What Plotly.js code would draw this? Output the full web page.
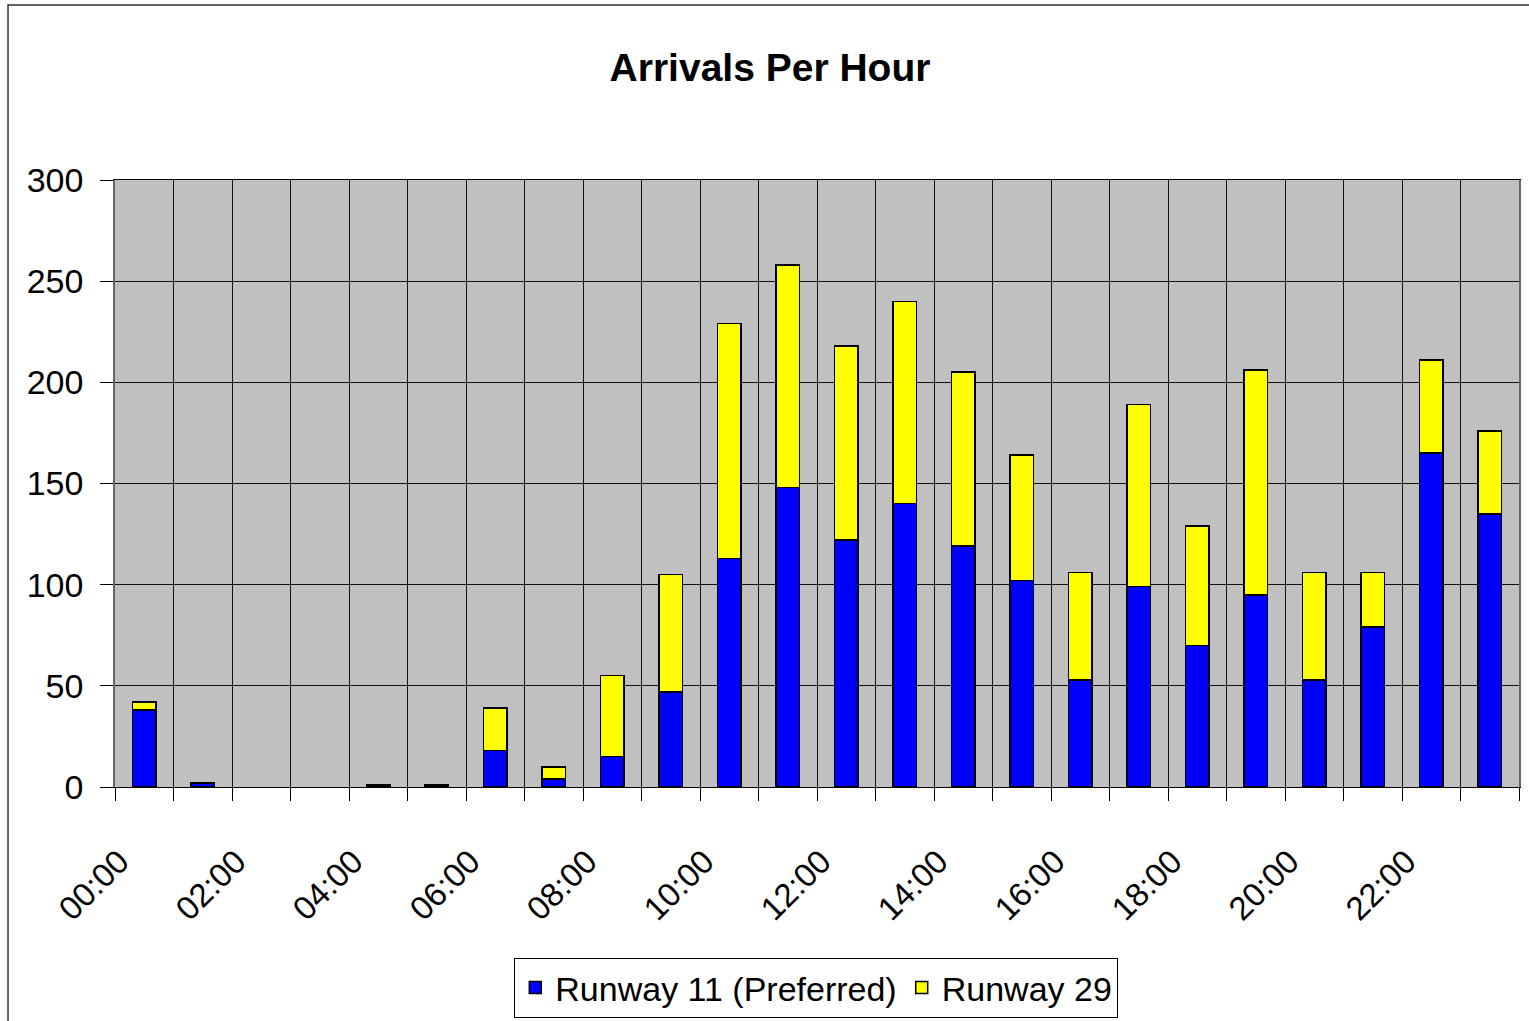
<!DOCTYPE html>
<html>
<head>
<meta charset="utf-8">
<script src="https://cdn.plot.ly/plotly-3.0.1.min.js"></script>
<style>
  body { margin: 0; background: #fff; }
  #chart { width: 1529px; height: 1021px; }
</style>
</head>
<body>
<div id="chart"></div>
<script>
// hour slots 0..23, labelled every second hour
let hours = [0, 1, 2, 3, 4, 5, 6, 7, 8, 9, 10, 11, 12, 13, 14, 15, 16, 17, 18, 19, 20, 21, 22, 23];
let labelHours = [0, 2, 4, 6, 8, 10, 12, 14, 16, 18, 20, 22];
let labelText = ["00:00", "02:00", "04:00", "06:00", "08:00", "10:00", "12:00", "14:00", "16:00", "18:00", "20:00", "22:00"];

// arrivals (null = no bar drawn)
let runway11 = [38, 2, null, null, 1, 1, 18, 4, 15, 47, 113, 148, 122, 140, 119, 102, 53, 99, 70, 95, 53, 79, 165, 135];
let runway29 = [4, null, null, null, null, null, 21, 6, 40, 58, 116, 110, 96, 100, 86, 62, 53, 90, 59, 111, 53, 27, 46, 41];

let font = "Liberation Sans, Arial, sans-serif";

let data = [
  {
    x: hours,
    y: runway11,
    type: "bar",
    name: "Runway 11 (Preferred)",
    marker: {color: "#0000FF", line: {color: "#000", width: 1.5}}
  },
  {
    x: hours,
    y: runway29,
    type: "bar",
    name: "Runway 29",
    marker: {color: "#FFFF00", line: {color: "#000", width: 1.5}}
  }
];

let layout = {
  width: 1529,
  height: 1021,
  margin: {l: 115, r: 10, t: 180, b: 234, autoexpand: false},
  paper_bgcolor: "#fff",
  plot_bgcolor: "#C0C0C0",
  barmode: "stack",
  bargap: 0.59,
  font: {family: font, color: "#000"},
  title: {
    text: "Arrivals Per Hour",
    font: {family: font, size: 39, weight: "bold", color: "#000"},
    xref: "container",
    x: 0.5036,
    xanchor: "center",
    yref: "container",
    y: 0.934,
    yanchor: "middle"
  },
  xaxis: {
    range: [-0.5, 23.5],
    automargin: false,
    tickmode: "array",
    tickvals: labelHours,
    ticktext: labelText,
    tickangle: -45,
    ticks: "",
    showgrid: false,
    zeroline: false,
    showline: true,
    linecolor: "#000",
    linewidth: 1,
    mirror: true,
    tickfont: {family: font, size: 33, color: "#000"},
    ticklabelstandoff: 41,
    ticklabelshift: -25,
    minor: {
      tick0: -0.5,
      dtick: 1,
      ticks: "outside",
      ticklen: 13,
      tickcolor: "#000",
      tickwidth: 1,
      showgrid: true,
      gridcolor: "#111",
      gridwidth: 1
    }
  },
  yaxis: {
    range: [0, 300],
    automargin: false,
    dtick: 50,
    ticks: "outside",
    ticklen: 13,
    tickcolor: "#000",
    showgrid: true,
    gridcolor: "#111",
    gridwidth: 1,
    zeroline: false,
    showline: true,
    linecolor: "#666",
    linewidth: 1.5,
    mirror: true,
    tickfont: {family: font, size: 34, color: "#000"},
    ticklabelstandoff: 10
  },
  legend: {
    orientation: "h",
    x: 0.4995,
    xanchor: "center",
    y: -0.2817,
    yanchor: "top",
    bgcolor: "#fff",
    bordercolor: "#000",
    borderwidth: 1,
    font: {family: font, size: 34, color: "#000"},
    traceorder: "normal"
  },
  shapes: [
    // outer chart frame, cut off on the right and bottom like the original
    {type: "rect", xref: "paper", yref: "paper", x0: -0.0762, x1: 1.05, y0: -0.5, y1: 1.2883,
     line: {color: "#333", width: 1.5}, fillcolor: "rgba(0,0,0,0)", layer: "below"}
  ],
  showlegend: true
};

Plotly.newPlot("chart", data, layout, {displayModeBar: false});
</script>
</body>
</html>
